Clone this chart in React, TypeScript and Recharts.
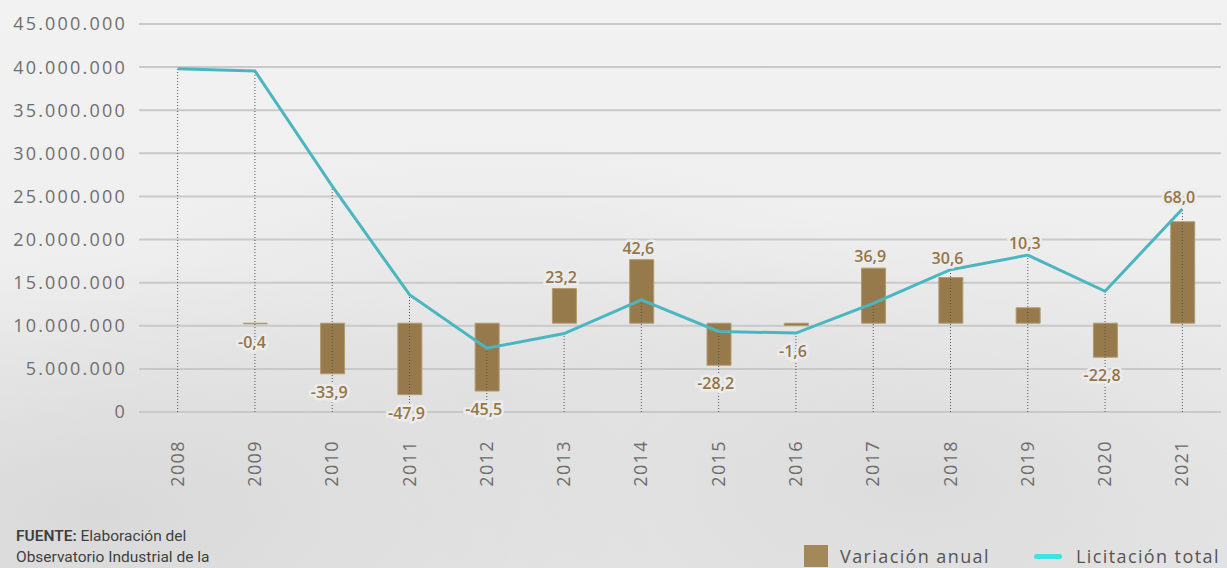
import React from 'react';
import {
  ComposedChart,
  Bar,
  Line,
  XAxis,
  YAxis,
  CartesianGrid,
  ReferenceLine,
  LabelList,
  Legend,
} from 'recharts';

// Datos
const years = ['2008', '2009', '2010', '2011', '2012', '2013', '2014', '2015', '2016', '2017', '2018', '2019', '2020', '2021'];
const licitacionTotal = [39800000, 39550000, 26200000, 13600000, 7400000, 9100000, 13000000, 9350000, 9150000, 12600000, 16500000, 18200000, 14000000, 23550000];
const variacionAnual = [null, -0.4, -33.9, -47.9, -45.5, 23.2, 42.6, -28.2, -1.6, 36.9, 30.6, 10.3, -22.8, 68.0];
const yTicks = [0, 5000000, 10000000, 15000000, 20000000, 25000000, 30000000, 35000000, 40000000, 45000000];

// Las barras de variación flotan sobre ~10,3 millones (1% ≈ 173.000)
const Y_MAX = 45000000;
const BAR_BASE = 10300000;
const PER_PCT = 173000;
const pctDomain = [-BAR_BASE / PER_PCT, (Y_MAX - BAR_BASE) / PER_PCT];

// posición de la etiqueta: por encima/debajo de la barra o del punto de la línea
const data = years.map((year, i) => {
  const pct = variacionAnual[i];
  const linePct = (licitacionTotal[i] - BAR_BASE) / PER_PCT;
  let labelAt: number | null = null;
  if (pct !== null) labelAt = pct >= 0 ? Math.max(pct, linePct) : Math.min(pct, linePct);
  return { year, total: licitacionTotal[i], pct, labelAt };
});

const BROWN = '#967a4c';
const TEAL = '#4ab6c0';

const fmtMiles = (v: number) => String(v).replace(/\B(?=(\d{3})+(?!\d))/g, '.');

const renderLabel = (props: any) => {
  const { x, y, index } = props;
  const pct = variacionAnual[index];
  if (pct === null || pct === undefined || y === undefined) return null;
  const ty = pct >= 0 ? y - 6 : y + 24;
  return (
    <text
      x={x - 3}
      y={ty}
      textAnchor="middle"
      fill="#937548"
      stroke="#ececec"
      strokeWidth={5}
      paintOrder="stroke"
      fontSize={16}
      fontWeight={600}
      fontFamily="'Open Sans', sans-serif"
    >
      {pct.toFixed(1).replace('.', ',')}
    </text>
  );
};

const YearTick = (props: any) => {
  const { x, y, payload } = props;
  return (
    <text
      x={x + 6}
      y={y + 20}
      transform={`rotate(-90, ${x + 6}, ${y + 20})`}
      textAnchor="end"
      fill="#6c6c6c"
      fontSize={18}
      letterSpacing={1.4}
      fontFamily="'Open Sans', sans-serif"
    >
      {payload.value}
    </text>
  );
};

const LegendContent = () => (
  <div style={{ display: 'flex', alignItems: 'center', fontFamily: "'Open Sans', sans-serif", fontSize: 18, letterSpacing: 1.4, color: '#555', lineHeight: '22px' }}>
    <span style={{ width: 24, height: 22, background: '#a3885a', display: 'inline-block', marginRight: 12 }} />
    <span>Variación anual</span>
    <span style={{ width: 28, height: 5, borderRadius: 3, background: '#3fe1e1', display: 'inline-block', marginLeft: 44, marginRight: 14 }} />
    <span style={{ whiteSpace: 'nowrap' }}>Licitación total</span>
  </div>
);

export default function App() {
  return (
    <div
      style={{
        position: 'absolute',
        left: 0,
        top: 0,
        width: 1227,
        height: 568,
        overflow: 'hidden',
        background:
          'radial-gradient(ellipse at 8% 90%, #d9d9d9 0%, rgba(217,217,217,0) 35%), radial-gradient(ellipse at 75% 85%, #dcdcdc 0%, rgba(220,220,220,0) 40%), radial-gradient(ellipse at 40% 70%, #e2e2e2 0%, rgba(226,226,226,0) 45%), linear-gradient(180deg, #f2f2f2 0%, #eeeeee 55%, #e6e6e6 100%)',
      }}
    >
      <ComposedChart
        width={1227}
        height={568}
        data={data}
        margin={{ top: 24, right: 6, left: 0, bottom: 0 }}
      >
        <CartesianGrid vertical={false} stroke="#c9c9c9" strokeWidth={2} yAxisId="left" />
        <XAxis
          dataKey="year"
          height={156}
          axisLine={false}
          tickLine={false}
          interval={0}
          tick={<YearTick />}
        />
        <YAxis
          yAxisId="left"
          width={139}
          domain={[0, Y_MAX]}
          ticks={yTicks}
          tickFormatter={fmtMiles}
          axisLine={false}
          tickLine={false}
          tickMargin={6}
          tick={{ fill: '#6f6f6f', fontSize: 18, letterSpacing: 2.2, fontFamily: "'Open Sans', sans-serif" }}
        />
        <YAxis yAxisId="pct" hide domain={pctDomain} allowDataOverflow />
        <Bar yAxisId="pct" dataKey="pct" fill={BROWN} stroke="#b29a70" strokeWidth={1} barSize={24} isAnimationActive={false} legendType="square" />
        {data.map((d) => (
          <ReferenceLine
            key={d.year}
            yAxisId="left"
            segment={[{ x: d.year, y: 0 }, { x: d.year, y: d.total }]}
            stroke="#555"
            strokeWidth={1}
            strokeDasharray="1 2"
          />
        ))}
        <Line
          yAxisId="left"
          type="linear"
          dataKey="total"
          stroke={TEAL}
          strokeWidth={3}
          dot={false}
          activeDot={false}
          isAnimationActive={false}
        />
        <Line
          yAxisId="pct"
          type="linear"
          dataKey="labelAt"
          stroke="none"
          dot={false}
          activeDot={false}
          legendType="none"
          isAnimationActive={false}
        >
          <LabelList dataKey="labelAt" content={renderLabel} />
        </Line>
        <Legend
          layout="horizontal"
          verticalAlign="middle"
          align="center"
          content={<LegendContent />}
          wrapperStyle={{ left: 804, top: 545, width: 440 }}
        />
      </ComposedChart>
      <div
        style={{
          position: 'absolute',
          left: 16,
          top: 526,
          fontFamily: 'Roboto, sans-serif',
          fontSize: 15.5,
          lineHeight: '21px',
          color: '#3f3f3f',
        }}
      >
        <b style={{ fontWeight: 600 }}>FUENTE:</b> Elaboración del
        <br />
        Observatorio Industrial de la
      </div>
    </div>
  );
}
